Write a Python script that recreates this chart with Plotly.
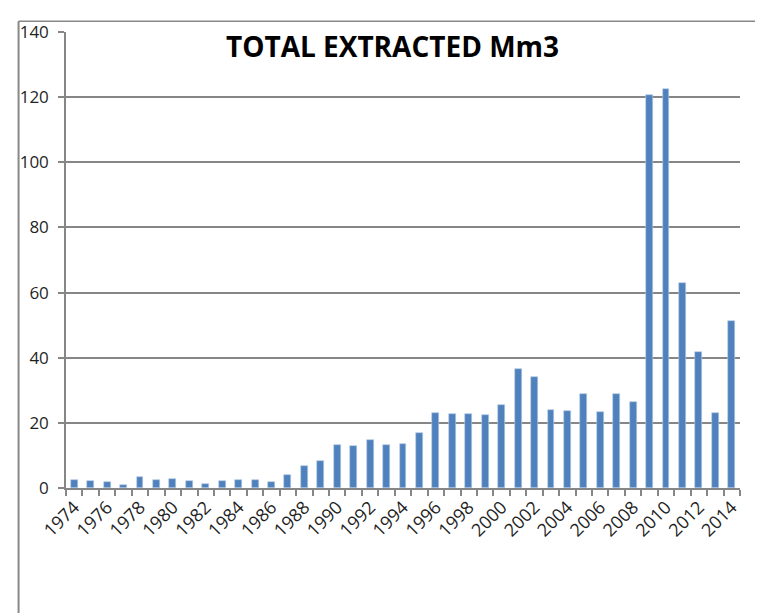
import plotly.graph_objects as go

years = list(range(1974, 2015))
extracted_mm3 = [2.5, 2.1, 1.8, 0.8, 3.4, 2.5, 2.8, 2.3, 1.2, 2.0,
                 2.5, 2.5, 1.8, 4.0, 6.8, 8.3, 13.3, 12.8, 14.6, 13.1,
                 13.6, 16.8, 23.1, 22.8, 22.6, 22.3, 25.5, 36.6, 34.1, 23.9,
                 23.6, 28.9, 23.4, 28.9, 26.3, 120.8, 122.6, 62.8, 41.8, 23.1,
                 51.2]
tick_years = [y for y in years if y % 2 == 0]
tick_labels = [str(y) for y in tick_years]
y_ticks = [0, 20, 40, 60, 80, 100, 120, 140]
title_text = "TOTAL EXTRACTED Mm3"

GRID = "#868686"
FONT = "Open Sans"
TXT = "#1f1f1f"

fig = go.Figure()
fig.add_trace(go.Bar(
    x=years, y=extracted_mm3, width=0.42,
    marker=dict(color="#4F81BD", line=dict(color="#B9CDE5", width=0.6)),
    showlegend=False,
))

# page has an 8px body margin; figure is placed at (8, 8)
OFF = 8
W, H = 763 - OFF, 613 - OFF
L, R, T, B = 58 - OFF, 23, 23 - OFF, 125
pw, ph = W - L - R, H - T - B

fig.update_layout(
    width=W, height=H,
    margin=dict(l=L, r=R, t=T, b=B, pad=0),
    paper_bgcolor="white", plot_bgcolor="white",
    font=dict(family=FONT, color=TXT),
    title=dict(text=f"<b>{title_text}</b>", x=(392.5 - OFF) / W, xanchor="center",
               y=1 - (47 - OFF) / H, yanchor="middle",
               font=dict(family=FONT, size=28, color="#000000")),
    bargap=0,
    xaxis=dict(
        range=[years[0] - 0.5, years[-1] + 0.5],
        tickmode="array", tickvals=tick_years, ticktext=tick_labels,
        tickangle=-45, ticks="", tickfont=dict(size=18, family=FONT, color=TXT),
        showline=True, linecolor=GRID, linewidth=1.5,
        showgrid=False, zeroline=False,
        minor=dict(tickmode="array", tickvals=[y - 0.5 for y in years] + [years[-1] + 0.5],
                   ticks="outside", ticklen=6, tickcolor=GRID, tickwidth=1.5, showgrid=False),
    ),
    yaxis=dict(
        range=[0, 140], tickmode="array", tickvals=y_ticks,
        ticks="outside", ticklen=6, tickcolor=GRID, tickwidth=1.5,
        ticklabelstandoff=6,
        tickfont=dict(size=17, family=FONT, color=TXT),
        showline=True, linecolor=GRID, linewidth=1.5,
        showgrid=True, gridcolor=GRID, gridwidth=1.5, zeroline=False,
    ),
)

# chart-area border (left and top edges visible in the cropped reference)
bx = (10 - OFF - L) / pw
by = (H - B - (12 - OFF)) / ph
fig.add_shape(type="line", xref="paper", yref="paper", x0=bx, x1=bx, y0=-B / ph - 0.05, y1=by,
              line=dict(color="#888888", width=2))
fig.add_shape(type="line", xref="paper", yref="paper", x0=bx, x1=1 + R / pw + 0.05, y0=by, y1=by,
              line=dict(color="#888888", width=1.5))

fig.write_html("out.html")
